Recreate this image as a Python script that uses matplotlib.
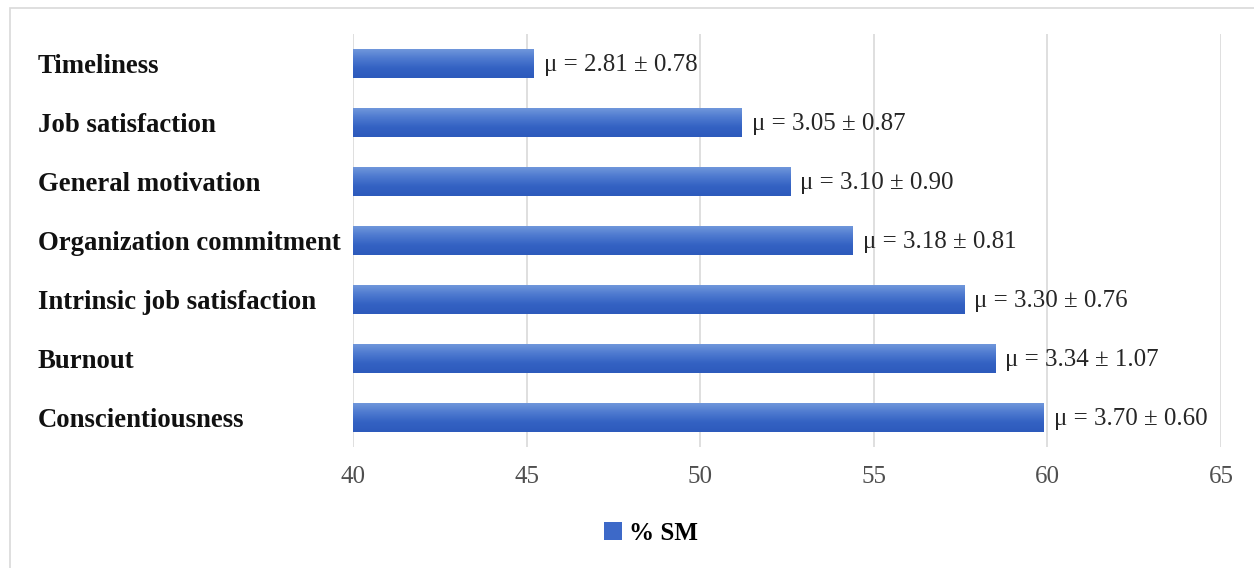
import matplotlib.pyplot as plt
import numpy as np
from matplotlib.patches import Rectangle
from matplotlib.colors import LinearSegmentedColormap

categories = ["Timeliness", "Job satisfaction", "General motivation",
              "Organization commitment", "Intrinsic job satisfaction",
              "Burnout", "Conscientiousness"]
sm_percent = [45.2, 51.2, 52.6, 54.4, 57.6, 58.5, 59.9]
mu_labels = ["\u03bc = 2.81 \u00b1 0.78", "\u03bc = 3.05 \u00b1 0.87",
             "\u03bc = 3.10 \u00b1 0.90", "\u03bc = 3.18 \u00b1 0.81",
             "\u03bc = 3.30 \u00b1 0.76", "\u03bc = 3.34 \u00b1 1.07",
             "\u03bc = 3.70 \u00b1 0.60"]
x_ticks = [40, 45, 50, 55, 60, 65]

plt.rcParams['font.family'] = ['Liberation Serif', 'DejaVu Serif']

W, H = 1254, 568
fig = plt.figure(figsize=(W / 100, H / 100), dpi=100)
ax = fig.add_axes([353 / W, 1 - 447 / H, (1221 - 353) / W, (447 - 34) / H])

y = np.arange(len(categories))
base = x_ticks[0]
bars = ax.barh(y, np.array(sm_percent) - base, left=base, height=0.5,
               color='#3D69C8', label='% SM', zorder=2)

# vertical gradient inside every bar (light on top, dark below)
grad = np.linspace(0, 1, 64).reshape(-1, 1)
cmap = LinearSegmentedColormap.from_list('bar', ['#7399DC', '#4F7BD0', '#3462C3', '#2D5ABC'])
for b in bars:
    x0, y0, w, h = b.get_x(), b.get_y(), b.get_width(), b.get_height()
    im = ax.imshow(grad, cmap=cmap, aspect='auto', extent=(x0, x0 + w, y0 + h, y0),
                   zorder=3, interpolation='bilinear')
    im.set_clip_path(b)

for yi, v, txt in zip(y, sm_percent, mu_labels):
    ax.annotate(txt, xy=(v, yi), xytext=(10, -1), textcoords='offset pixels',
                va='center', ha='left', fontsize=18, color='#262626', zorder=4)

ax.set_xlim(x_ticks[0], x_ticks[-1])
ax.set_ylim(len(categories) - 0.5, -0.5)
ax.set_xticks(x_ticks)
ax.set_yticks(y)
ax.set_yticklabels(categories, ha='left', fontsize=19.3, fontweight='bold', color='#111111')
ax.tick_params(axis='y', length=0, pad=(353 - 38) * 0.72)
ax.tick_params(axis='x', length=0, pad=14, labelsize=18, labelcolor='#4F4F4F')
ax.grid(axis='x', color='#D9D9D9', linewidth=1.2, zorder=0)
ax.set_axisbelow(True)
for s in ax.spines.values():
    s.set_visible(False)

fig.legend(handles=[bars], labels=['% SM'], loc='center',
           bbox_to_anchor=(651 / W, 1 - 533 / H), frameon=False,
           prop={'size': 18, 'weight': 'bold'},
           handlelength=0.7, handleheight=0.7, handletextpad=0.3)

# light frame of the chart area (top and left edges visible)
fig.patches.append(Rectangle((10 / W, -0.1), 1.2, 1 - 8 / H + 0.1, transform=fig.transFigure,
                             fill=False, edgecolor='#D9D9D9', linewidth=1.2))

fig.savefig('out.png', dpi=100)
